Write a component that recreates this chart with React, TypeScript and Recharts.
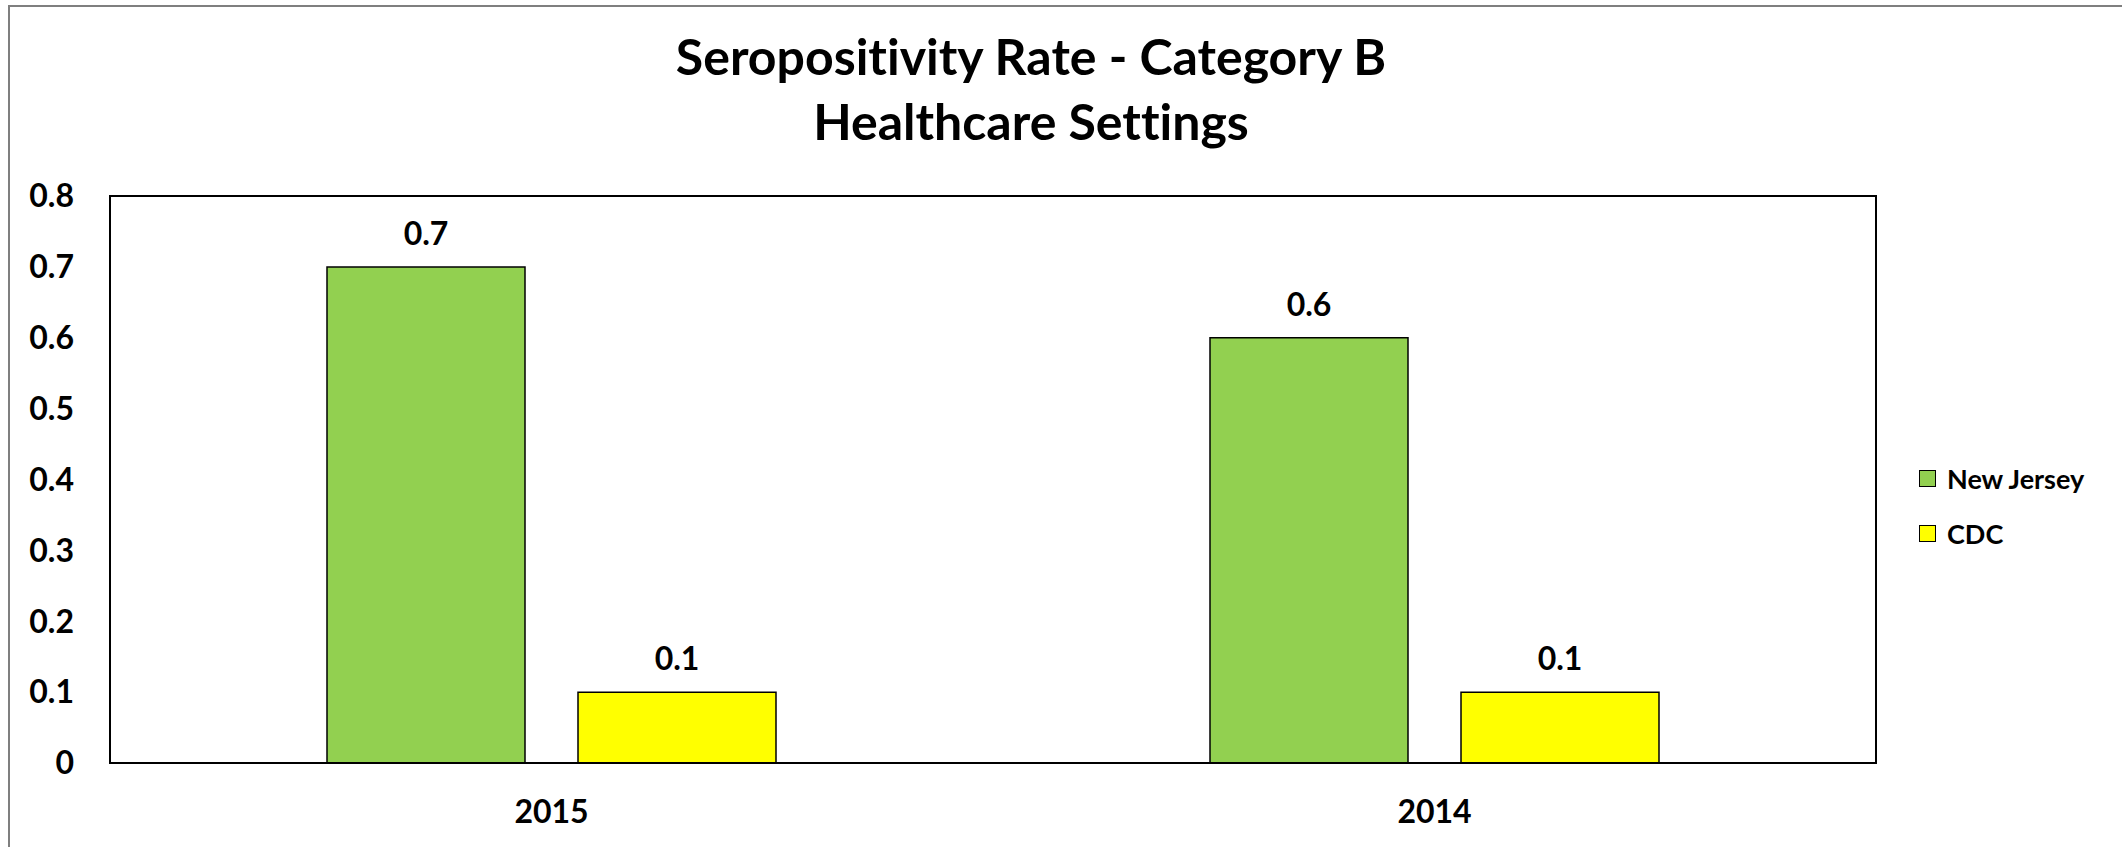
import { Bar, BarChart, LabelList, Legend, XAxis, YAxis } from 'recharts'

const years = ['2015', '2014']
const newJersey = [0.7, 0.6]
const cdc = [0.1, 0.1]
const yTicks = [0, 0.1, 0.2, 0.3, 0.4, 0.5, 0.6, 0.7, 0.8]
const seriesNames = ['New Jersey', 'CDC']
const seriesColors = ['#92D050', '#FFFF00']

const data = years.map((year, i) => ({ year, nj: newJersey[i], cdc: cdc[i] }))

const font = 'Lato, "Open Sans", sans-serif'
const tickStyle = { fill: '#000', fontSize: 32, fontWeight: 700, fontFamily: font }

const LegendBox = () => (
  <div style={{ fontFamily: font, fontWeight: 700, fontSize: 27, color: '#000' }}>
    {seriesNames.map((name, i) => (
      <div key={name} style={{ display: 'flex', alignItems: 'center', height: 55 }}>
        <div
          style={{
            width: 17,
            height: 17,
            boxSizing: 'border-box',
            background: seriesColors[i],
            border: '1.5px solid #000',
            marginRight: 11,
          }}
        />
        <span>{name}</span>
      </div>
    ))}
  </div>
)

export default function App() {
  return (
    <div style={{ position: 'absolute', left: 0, top: 0, width: 2122, height: 847, overflow: 'hidden', background: '#fff' }}>
      <div
        style={{
          position: 'absolute',
          left: 8,
          top: 5,
          width: 2122,
          height: 900,
          border: '2px solid #7f7f7f',
          boxSizing: 'border-box',
        }}
      />
      <div
        style={{
          position: 'absolute',
          left: 0,
          top: 24,
          width: 2062,
          textAlign: 'center',
          fontFamily: font,
          fontWeight: 700,
          fontSize: 50,
          lineHeight: '65px',
          color: '#000',
          fontVariantLigatures: 'none',
        }}
      >
        <div>Seropositivity Rate - Category B</div>
        <div>Healthcare Settings</div>
      </div>
      <div style={{ position: 'absolute', left: 0, top: 0 }}>
        <BarChart
          width={2122}
          height={847}
          data={data}
          margin={{ top: 196, right: 246, bottom: 34, left: 50 }}
          barCategoryGap={217}
          barGap={53}
        >
          <XAxis
            dataKey="year"
            height={50}
            axisLine={false}
            tickLine={false}
            tickSize={0}
            tickMargin={37}
            tick={tickStyle}
          />
          <YAxis
            width={60}
            domain={[0, 0.8]}
            ticks={yTicks}
            axisLine={false}
            tickLine={false}
            tickSize={0}
            tickMargin={36}
            tick={tickStyle}
          />
          <Legend
            layout="vertical"
            align="center"
            verticalAlign="middle"
            wrapperStyle={{ left: 1919, top: 451, width: 200 }}
            content={() => <LegendBox />}
          />
          <Bar dataKey="nj" name={seriesNames[0]} fill={seriesColors[0]} stroke="#000" strokeWidth={1.5} isAnimationActive={false}>
            <LabelList dataKey="nj" position="top" offset={22} style={tickStyle} />
          </Bar>
          <Bar dataKey="cdc" name={seriesNames[1]} fill={seriesColors[1]} stroke="#000" strokeWidth={1.5} isAnimationActive={false}>
            <LabelList dataKey="cdc" position="top" offset={22} style={tickStyle} />
          </Bar>
        </BarChart>
      </div>
      <div
        style={{
          position: 'absolute',
          left: 109,
          top: 195,
          width: 1768,
          height: 569,
          border: '2px solid #000',
          boxSizing: 'border-box',
          pointerEvents: 'none',
        }}
      />
    </div>
  )
}
